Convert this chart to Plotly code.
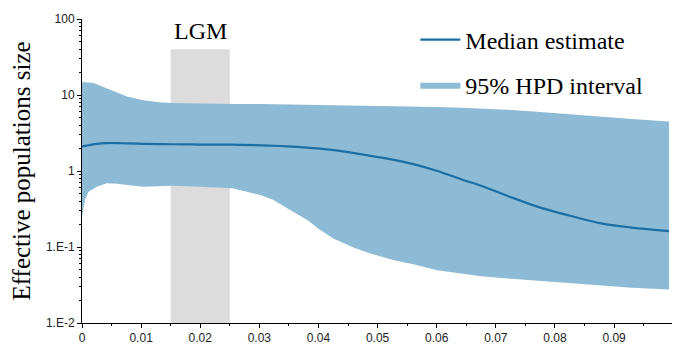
import math
import plotly.graph_objects as go

# Time (substitutions/site) and effective population size (median + 95% HPD)
time_pts = [0.0, 0.0005, 0.0011, 0.0019, 0.0025, 0.0042, 0.0060, 0.0076, 0.0104, 0.0130,
            0.0152, 0.0200, 0.0254, 0.0302, 0.0324, 0.0347, 0.0381, 0.0403, 0.0426,
            0.0460, 0.0488, 0.0528, 0.0562, 0.0601, 0.0641, 0.0675, 0.0720, 0.0770,
            0.0832, 0.0878, 0.0930, 0.0993]
median = [2.10, 2.14, 2.18, 2.24, 2.28, 2.33, 2.33, 2.31, 2.28, 2.26,
          2.25, 2.23, 2.22, 2.18, 2.15, 2.11, 2.03, 1.97, 1.88,
          1.72, 1.58, 1.40, 1.22, 1.00, 0.78, 0.64, 0.47, 0.34,
          0.25, 0.205, 0.18, 0.162]
upper = [14.8, 14.7, 14.6, 14.4, 13.9, 12.3, 10.7, 9.55, 8.5, 8.0,
         7.83, 7.70, 7.62, 7.60, 7.55, 7.52, 7.48, 7.45, 7.42,
         7.35, 7.28, 7.15, 7.05, 6.95, 6.80, 6.65, 6.40, 6.00,
         5.50, 5.20, 4.85, 4.49]
lower = [0.25, 0.416, 0.535, 0.59, 0.62, 0.69, 0.68, 0.656, 0.62, 0.63,
         0.64, 0.62, 0.593, 0.484, 0.416, 0.323, 0.226, 0.167, 0.128,
         0.0975, 0.082, 0.067, 0.059, 0.0495, 0.0447, 0.0413, 0.0385, 0.036,
         0.033, 0.031, 0.029, 0.0275]

lgm_span = [0.015, 0.025]
lgm_top = 40

x_ticks = [0, 0.01, 0.02, 0.03, 0.04, 0.05, 0.06, 0.07, 0.08, 0.09]
x_ticklabels = ["0", "0.01", "0.02", "0.03", "0.04", "0.05", "0.06", "0.07", "0.08", "0.09"]
y_ticks = [0.01, 0.1, 1, 10, 100]
y_ticklabels = ["1.E-2", "1.E-1", "1", "10", "100"]

band_color = "#8dbbd6"
line_color = "#1c6ea4"
serif = "Liberation Serif, Times New Roman, serif"
sans = "Liberation Sans, Arial, sans-serif"

fig = go.Figure()

# Last Glacial Maximum shading
fig.add_shape(type="rect", xref="x", yref="y",
              x0=lgm_span[0], x1=lgm_span[1], y0=0.01, y1=lgm_top,
              fillcolor="#dcdcdc", line_width=0, layer="below")
fig.add_annotation(x=sum(lgm_span) / 2, y=math.log10(lgm_top), xref="x", yref="y",
                   text="LGM", showarrow=False, yanchor="bottom", yshift=3,
                   font=dict(family=serif, size=24, color="black"))

# 95% HPD band
fig.add_trace(go.Scatter(x=time_pts, y=lower, mode="lines", line=dict(width=0),
                         showlegend=False, hoverinfo="skip"))
fig.add_trace(go.Scatter(x=time_pts, y=upper, mode="lines", line=dict(width=0),
                         fill="tonexty", fillcolor=band_color,
                         name="95% HPD interval", legendgroup="b", legendrank=2))
# Median
fig.add_trace(go.Scatter(x=time_pts, y=median, mode="lines",
                         line=dict(color=line_color, width=2.2, shape="spline"),
                         name="Median estimate", legendgroup="a", legendrank=1))

fig.update_layout(
    width=673, height=348,
    margin=dict(l=82, r=1, t=19, b=25),
    plot_bgcolor="white", paper_bgcolor="white",
    showlegend=True,
    legend=dict(x=0.565, y=1.005, xanchor="left", yanchor="top",
                font=dict(family=serif, size=24, color="black"),
                bgcolor="rgba(0,0,0,0)", traceorder="grouped", tracegroupgap=11,
                itemwidth=40),
    xaxis=dict(range=[0, 0.0998], tickvals=x_ticks, ticktext=x_ticklabels,
               showline=True, linecolor="black", linewidth=1,
               ticks="outside", ticklen=4, tickcolor="black",
               minor=dict(ticks="outside", ticklen=2, tickcolor="black", dtick=0.005),
               showgrid=False, zeroline=False,
               tickfont=dict(family=sans, size=12, color="#222")),
    yaxis=dict(type="log", range=[-2, 2], tickvals=y_ticks, ticktext=y_ticklabels,
               showline=True, linecolor="black", linewidth=1,
               ticks="outside", ticklen=4, tickcolor="black",
               minor=dict(ticks="outside", ticklen=2, tickcolor="black", dtick="D1"),
               showgrid=False, zeroline=False,
               tickfont=dict(family=sans, size=12, color="#222"),
               title=dict(text="Effective populations size", standoff=8,
                          font=dict(family=serif, size=25, color="black"))),
)

fig.write_html("out.html")
